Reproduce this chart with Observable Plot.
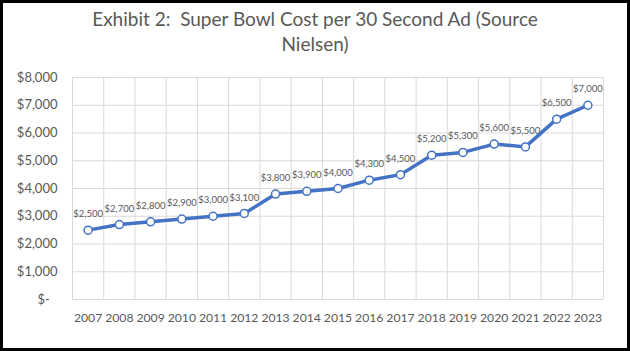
<!DOCTYPE html>
<html><head><meta charset="utf-8">
<script src="https://cdn.jsdelivr.net/npm/d3@7"></script>
<script src="https://cdn.jsdelivr.net/npm/@observablehq/plot@0.6"></script>
<style>
html,body{margin:0;padding:0;background:#fff;}
#frame{position:relative;width:630px;height:351px;overflow:hidden;font-family:Lato,sans-serif;background:#fff;}
#border{position:absolute;left:0;top:0;width:630px;height:351px;box-sizing:border-box;border:3px solid #000;pointer-events:none;}
#title{position:absolute;left:0;top:6px;width:630px;text-align:center;font-size:19px;line-height:25px;color:#595959;white-space:pre;}
#chart{position:absolute;left:0;top:60px;}
#chart g[aria-label^="x-axis"] text{font-size:12.2px;}
</style>
</head><body>
<div id="frame">
  <div id="title">Exhibit 2:  Super Bowl Cost per 30 Second Ad (Source
Nielsen)</div>
  <div id="chart"></div>
  <div id="border"></div>
</div>
<script>
const years = [2007,2008,2009,2010,2011,2012,2013,2014,2015,2016,2017,2018,2019,2020,2021,2022,2023];
const costs = [2500,2700,2800,2900,3000,3100,3800,3900,4000,4300,4500,5200,5300,5600,5500,6500,7000];
const yTicks = [0,1000,2000,3000,4000,5000,6000,7000,8000];

const data = years.map((year, i) => ({year, cost: costs[i]}));
const bounds = [...years.map(y => y - 0.5), years[years.length - 1] + 0.5];
const money = d3.format(",");

const chart = Plot.plot({
  width: 630,
  height: 291,
  marginLeft: 72,
  marginRight: 27,
  marginTop: 17,
  marginBottom: 52,
  style: {fontFamily: "Lato, sans-serif", fontSize: "13px", color: "#595959", background: "transparent", overflow: "visible"},
  x: {type: "linear", domain: [years[0] - 0.5, years[years.length - 1] + 0.5], ticks: years, tickFormat: d => String(d), tickSize: 0, tickPadding: 14, label: null},
  y: {domain: [0, 8000], ticks: yTicks, tickFormat: d => d === 0 ? "$-\u2007" : "$" + money(d), tickSize: 0, tickPadding: 15, label: null},
  marks: [
    Plot.ruleY(yTicks, {stroke: "#d9d9d9", strokeWidth: 1, strokeOpacity: 1}),
    Plot.ruleX(bounds, {stroke: "#d9d9d9", strokeWidth: 1, strokeOpacity: 1}),
    Plot.line(data, {x: "year", y: "cost", stroke: "#4472C4", strokeWidth: 3.5, strokeLinejoin: "round", strokeLinecap: "round"}),
    Plot.dot(data, {x: "year", y: "cost", r: 4, fill: "white", stroke: "#4472C4", strokeWidth: 1.5}),
    Plot.text(data, {x: "year", y: "cost", text: d => "$" + money(d.cost), dy: -16, fontSize: 9.5, fill: "#595959"})
  ]
});
document.getElementById("chart").appendChild(chart);
</script>
</body></html>
